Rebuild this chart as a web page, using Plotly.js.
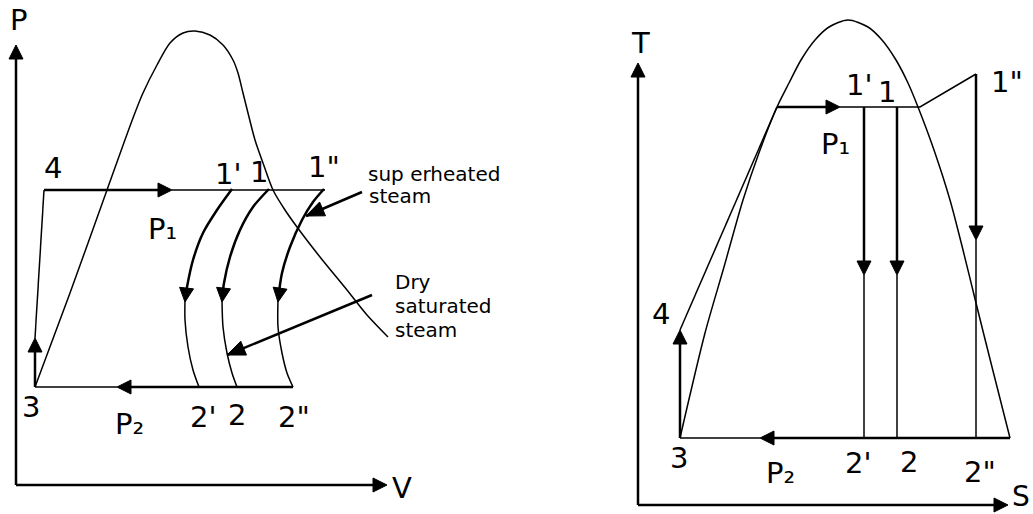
<!DOCTYPE html>
<html>
<head>
<meta charset="utf-8">
<script src="https://cdn.plot.ly/plotly-3.0.1.min.js"></script>
<style>html,body{margin:0;padding:0;background:#fff;}#chart{width:1033px;height:514px;}</style>
</head>
<body>
<div id="chart"></div>
<script>
// ---------- P-V diagram (values in diagram units) ----------
const pvAxisPx = [16, 16];   const pvAxisPy = [485, 55];
const pvAxisVx = [16, 377];  const pvAxisVy = [485, 485];

const pvDomeX = [35, 70, 107, 133, 143, 157, 170, 183, 195, 210, 223, 233, 238, 243, 248, 255, 263, 273, 285, 297, 320, 347, 367, 388];
const pvDomeY = [387, 293, 190, 118, 93, 65, 43, 33, 31, 35, 45, 60, 73, 93, 113, 140, 163, 190, 210, 227, 257, 290, 315, 337];

const pvPumpThickX = [35, 35];   const pvPumpThickY = [387, 345];
const pvPumpThinX = [35, 44];    const pvPumpThinY = [338, 190];
const pvP1ThickX = [44, 165];    const pvP1ThickY = [190, 190];
const pvP1ThinX = [172, 325];    const pvP1ThinY = [190, 190];
const pvP2ThinX = [35, 117];     const pvP2ThinY = [387, 387];
const pvP2ThickX = [124, 293];   const pvP2ThickY = [387, 387];

const pvC1pThickX = [232, 217, 203, 193, 187, 185];  const pvC1pThickY = [189, 210, 233, 260, 287, 300];
const pvC1pThinX = [185, 185, 188, 193, 199];        const pvC1pThinY = [300, 320, 347, 370, 387];
const pvC1ThickX = [269, 253, 240, 230, 224, 222];   const pvC1ThickY = [189, 207, 230, 257, 283, 300];
const pvC1ThinX = [222, 223, 227, 232, 237];         const pvC1ThinY = [300, 327, 353, 373, 387];
const pvC1ppThickX = [324, 313, 302, 290, 282, 278]; const pvC1ppThickY = [189, 202, 220, 247, 273, 300];
const pvC1ppThinX = [278, 278, 282, 287, 293];       const pvC1ppThinY = [300, 327, 353, 373, 387];

// ---------- T-S diagram ----------
const tsAxisTx = [638, 638];  const tsAxisTy = [505, 72];
const tsAxisSx = [638, 1000]; const tsAxisSy = [505, 505];

const tsDomeX = [680, 705, 724, 743, 760, 777, 789, 801, 815, 829, 848, 868, 882, 896, 908, 918, 934, 950, 963, 976, 992, 1010];
const tsDomeY = [438, 333, 267, 200, 150, 107, 83, 60, 40, 27, 20, 27, 40, 60, 83, 107, 150, 200, 250, 303, 367, 438];

const tsPumpThickX = [680, 680];  const tsPumpThickY = [438, 340];
const tsHeatThinX = [680, 777];   const tsHeatThinY = [330, 107];
const tsP1ThickX = [777, 833];    const tsP1ThickY = [107, 107];
const tsP1ThinX = [840, 920, 976];const tsP1ThinY = [107, 107, 74];
const tsE1ppThickX = [976, 976];  const tsE1ppThickY = [74, 232];
const tsE1ppThinX = [976, 976];   const tsE1ppThinY = [240, 438];
const tsE1pThickX = [864, 864];   const tsE1pThickY = [107, 268];
const tsE1pThinX = [864, 864];    const tsE1pThinY = [275, 438];
const tsE1ThickX = [897, 897];    const tsE1ThickY = [107, 268];
const tsE1ThinX = [897, 897];     const tsE1ThinY = [275, 438];
const tsP2ThinX = [680, 760];     const tsP2ThinY = [438, 438];
const tsP2ThickX = [767, 1010];   const tsP2ThickY = [438, 438];

// ---------- arrow heads: tip and a point behind it (gives direction) ----------
const arrowTipX  = [16, 387, 35, 172, 117, 185, 222, 278, 638, 1008, 680, 840, 976, 864, 897, 760];
const arrowTipY  = [45, 485, 338, 190, 387, 302, 302, 302, 63, 505, 330, 107, 240, 275, 275, 438];
const arrowTailX = [16, 362, 35, 150, 140, 187, 224, 281, 638, 985, 680, 815, 976, 864, 897, 785];
const arrowTailY = [70, 485, 360, 190, 387, 284, 284, 282, 88, 505, 355, 107, 215, 250, 250, 438];

// pointer arrows to the notes
const pointerTipX  = [306, 227];
const pointerTipY  = [216, 355];
const pointerTailX = [362, 372];
const pointerTailY = [192, 295];

// ---------- labels ----------
const bigLabels = ['P', 'V', '4', "1'", '1', '1"', '3', "2'", '2', '2"',
                   'T', "1'", '1', '1"', '4', '3', "2'", '2', '2"'];
const bigLabelX = [19, 402, 53, 228, 259, 324, 31, 203, 237, 294,
                   640, 859, 887, 1007, 661, 679, 858, 909, 980];
const bigLabelY = [20, 488, 168, 174, 172, 167, 407, 417, 415, 417,
                   43, 85, 92, 82, 314, 458, 463, 462, 472];

// axis label in the bottom-right corner of the page
const edgeLabels = ['S'];
const edgeLabelX = [1031];
const edgeLabelY = [514];

const subLabels = ['P₁', 'P₂', 'P₁', 'P₂'];
const subLabelX = [146, 113, 819, 764];
const subLabelY = [229, 424, 144, 473];

const noteLabels = ['sup erheated', 'steam', 'Dry', 'saturated', 'steam'];
const noteX = [366, 367, 393, 393, 393];
const noteY = [174, 196, 282, 306, 330];

// ---------- build ----------
const THICK = 2.5, THIN = 1.5;
const traces = [];
function addLine(xs, ys, w, smooth) {
  traces.push({x: xs, y: ys, mode: 'lines', type: 'scatter', hoverinfo: 'skip',
    line: {color: '#000', width: w, shape: smooth ? 'spline' : 'linear', smoothing: 0.8}});
}
function addHead(tx, ty, ax, ay, len, wid) {
  const dx = tx - ax, dy = ty - ay, n = Math.hypot(dx, dy);
  const ux = dx / n, uy = dy / n;
  const bx = tx - ux * len, by = ty - uy * len;
  const px = -uy * wid / 2, py = ux * wid / 2;
  traces.push({x: [tx, bx + px, bx - px, tx], y: [ty, by + py, by - py, ty], type: 'scatter',
    mode: 'lines', fill: 'toself', fillcolor: '#000', hoverinfo: 'skip',
    line: {color: '#000', width: 1}});
}
addLine(pvAxisPx, pvAxisPy, THICK); addLine(pvAxisVx, pvAxisVy, THICK);
addLine(pvDomeX, pvDomeY, THIN, true);
addLine(pvPumpThickX, pvPumpThickY, THICK); addLine(pvPumpThinX, pvPumpThinY, THIN);
addLine(pvP1ThickX, pvP1ThickY, THICK); addLine(pvP1ThinX, pvP1ThinY, THIN);
addLine(pvP2ThinX, pvP2ThinY, THIN); addLine(pvP2ThickX, pvP2ThickY, THICK);
addLine(pvC1pThickX, pvC1pThickY, THICK, true); addLine(pvC1pThinX, pvC1pThinY, THIN, true);
addLine(pvC1ThickX, pvC1ThickY, THICK, true); addLine(pvC1ThinX, pvC1ThinY, THIN, true);
addLine(pvC1ppThickX, pvC1ppThickY, THICK, true); addLine(pvC1ppThinX, pvC1ppThinY, THIN, true);

addLine(tsAxisTx, tsAxisTy, THICK); addLine(tsAxisSx, tsAxisSy, THICK);
addLine(tsDomeX, tsDomeY, THIN, true);
addLine(tsPumpThickX, tsPumpThickY, THICK); addLine(tsHeatThinX, tsHeatThinY, THIN);
addLine(tsP1ThickX, tsP1ThickY, THICK); addLine(tsP1ThinX, tsP1ThinY, THIN);
addLine(tsE1ppThickX, tsE1ppThickY, THICK); addLine(tsE1ppThinX, tsE1ppThinY, THIN);
addLine(tsE1pThickX, tsE1pThickY, THICK); addLine(tsE1pThinX, tsE1pThinY, THIN);
addLine(tsE1ThickX, tsE1ThickY, THICK); addLine(tsE1ThinX, tsE1ThinY, THIN);
addLine(tsP2ThinX, tsP2ThinY, THIN); addLine(tsP2ThickX, tsP2ThickY, THICK);

arrowTipX.forEach((v, i) => addHead(v, arrowTipY[i], arrowTailX[i], arrowTailY[i], 14, 14));
pointerTipX.forEach((v, i) => {
  addLine([pointerTailX[i], v], [pointerTailY[i], pointerTipY[i]], THICK);
  addHead(v, pointerTipY[i], pointerTailX[i], pointerTailY[i], 18, 15);
});

const annotations = [];
const FONT = 'DejaVu Sans, Verdana, sans-serif';
bigLabels.forEach((t, i) => annotations.push({x: bigLabelX[i], y: bigLabelY[i], xref: 'x', yref: 'y',
  text: t, showarrow: false, xanchor: 'center', yanchor: 'middle', font: {family: FONT, size: 29, color: '#000'}}));
edgeLabels.forEach((t, i) => annotations.push({x: edgeLabelX[i], y: edgeLabelY[i], xref: 'x', yref: 'y',
  text: t, showarrow: false, xanchor: 'right', yanchor: 'bottom', borderpad: 0, font: {family: FONT, size: 28, color: '#000'}}));
subLabels.forEach((t, i) => annotations.push({x: subLabelX[i], y: subLabelY[i], xref: 'x', yref: 'y',
  text: t, showarrow: false, xanchor: 'left', yanchor: 'middle', font: {family: FONT, size: 29, color: '#000'}}));
noteLabels.forEach((t, i) => annotations.push({x: noteX[i], y: noteY[i], xref: 'x', yref: 'y',
  text: t, showarrow: false, xanchor: 'left', yanchor: 'middle', font: {family: FONT, size: 20, color: '#000'}}));

const layout = {
  width: 1033, height: 514,
  margin: {l: 0, r: 0, t: 0, b: 0, pad: 0},
  paper_bgcolor: '#fff', plot_bgcolor: '#fff',
  showlegend: false,
  xaxis: {range: [0, 1033], visible: false, fixedrange: true},
  yaxis: {range: [514, 0], visible: false, fixedrange: true},
  annotations: annotations
};
Plotly.newPlot('chart', traces, layout, {displayModeBar: false, staticPlot: true});
</script>
</body>
</html>
